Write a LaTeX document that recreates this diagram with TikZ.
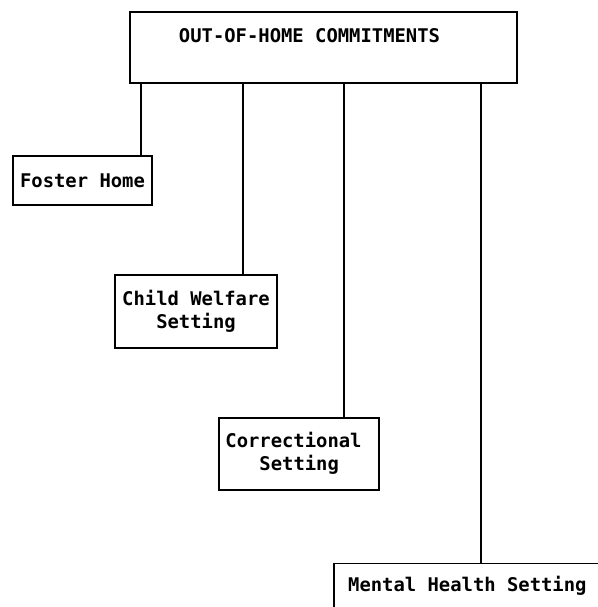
\documentclass[tikz,border=0pt]{standalone}
\usepackage{fontspec}
\setmonofont{DejaVu Sans Mono}
\begin{document}
\begin{tikzpicture}[x=1pt,y=1pt,
  box/.style={draw, line width=1.5pt, inner sep=0pt},
  lbl/.style={font=\fontsize{18.85}{23}\selectfont\ttfamily\bfseries, inner sep=0pt},
  link/.style={line width=1.4pt}]
\useasboundingbox (0,0) rectangle (597,607);

% heading box
\node[box, minimum width=387pt, minimum height=71pt] (top) at (323.5,559.5) {};
\node[lbl, anchor=base] (toptext) at (309.5,564) {OUT-OF-HOME COMMITMENTS};

% placement boxes
\node[box, lbl, minimum width=139pt, minimum height=49pt] (fh) at (82.5,426.5) {Foster Home};
\node[box, lbl, align=center, minimum width=162pt, minimum height=73pt] (cw) at (196,295.5) {Child Welfare\\Setting};
\node[box, minimum width=160pt, minimum height=72pt] (cs) at (299,153) {};
\node[lbl, align=left] (cstext) at (293.5,153.5) {Correctional\\\hphantom{xxx}Setting};
\node[box, anchor=north west, minimum width=300pt, minimum height=70pt] (mh) at (333,44) {};
\node[lbl, anchor=base west] (mhtext) at (348,15) {Mental Health Setting};

% drop lines
\coordinate (x1) at (141,0);
\coordinate (x2) at (243,0);
\coordinate (x3) at (344,0);
\coordinate (x4) at (481,0);
\draw[link] (top.south -| x1) -- (fh.north -| x1);
\draw[link] (top.south -| x2) -- (cw.north -| x2);
\draw[link] (top.south -| x3) -- (cs.north -| x3);
\draw[link] (top.south -| x4) -- (mh.north -| x4);
\end{tikzpicture}
\end{document}
